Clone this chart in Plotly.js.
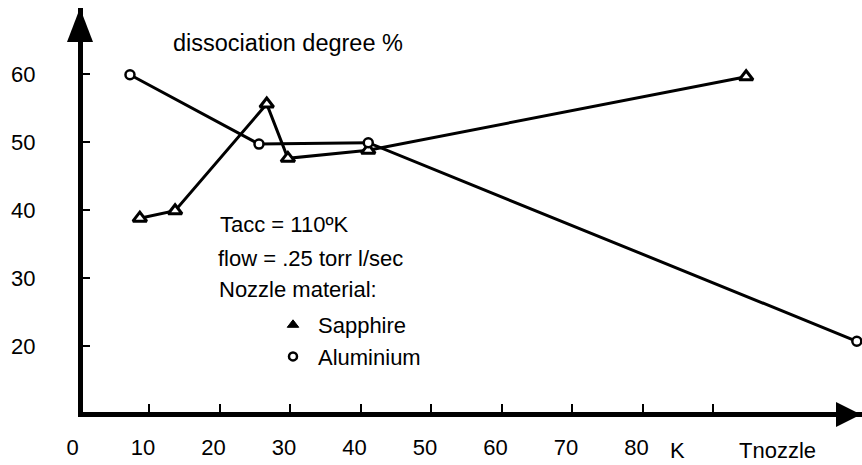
<!DOCTYPE html>
<html>
<head>
<meta charset="utf-8">
<script src="https://cdn.plot.ly/plotly-3.0.1.min.js"></script>
<style>html,body{margin:0;padding:0;background:#fff;}#chart{width:862px;height:465px;}</style>
</head>
<body>
<div id="chart"></div>
<script>
// ---- data ----
const seriesNames = ['Sapphire', 'Aluminium'];
const sapphireT = [8.7, 13.7, 26.7, 29.7, 41.1, 94.7];
const sapphireDeg = [38.8, 39.9, 55.6, 47.6, 48.8, 59.6];
const aluminiumT = [7.3, 25.6, 41.1, 110.4];
const aluminiumDeg = [59.9, 49.7, 49.9, 20.7];
const xTickVals = [0, 10, 20, 30, 40, 50, 60, 70, 80, 90];
const xTickText = ['0', '10', '20', '30', '40', '50', '60', '70', '80', ''];
const yTickVals = [20, 30, 40, 50, 60];
const yTickText = ['20', '30', '40', '50', '60'];
const chartTitle = 'dissociation degree %';
const unitLabel = 'K';
const axisLabel = 'Tnozzle';
const notes = ['Tacc = 110ºK', 'flow = .25 torr l/sec', 'Nozzle material:'];

const FONT = 'Liberation Sans, Arial, Helvetica, sans-serif';
const F = 22;

const lineStyle = {color: '#000', width: 3};
const traces = [
  {x: sapphireT, y: sapphireDeg, mode: 'lines', line: lineStyle, showlegend: false, hoverinfo: 'skip', cliponaxis: false},
  {x: aluminiumT, y: aluminiumDeg, mode: 'lines', line: lineStyle, showlegend: false, hoverinfo: 'skip', cliponaxis: false},
  {x: sapphireT, y: sapphireDeg, mode: 'markers', showlegend: false, cliponaxis: false, name: seriesNames[0],
   marker: {symbol: 'triangle-up', size: 12, color: '#fff', line: {color: '#000', width: 3}}},
  {x: aluminiumT, y: aluminiumDeg, mode: 'markers', showlegend: false, cliponaxis: false, name: seriesNames[1],
   marker: {symbol: 'circle', size: 9, color: '#fff', line: {color: '#000', width: 2.5}}},
  // legend entries
  {x: [null], y: [null], mode: 'markers', name: seriesNames[0], showlegend: true,
   marker: {symbol: 'triangle-up', size: 10, color: '#000', line: {color: '#000', width: 1}}},
  {x: [null], y: [null], mode: 'markers', name: seriesNames[1], showlegend: true,
   marker: {symbol: 'circle-open', size: 8, color: '#000', line: {color: '#000', width: 2.5}}}
];

const L = 78, T = 8, B = 53, W = 862, H = 465;
const pw = W - L, ph = H - T - B;
const px = v => (v - L) / pw;          // pixel -> paper x
const py = v => (H - B - v) / ph;      // pixel -> paper y
const x0 = (L - 78.5) / 7.05;

const layout = {
  width: W, height: H,
  margin: {l: L, r: 0, t: T, b: B, pad: 0},
  paper_bgcolor: '#fff', plot_bgcolor: '#fff',
  font: {family: FONT, size: F, color: '#000'},
  title: {text: chartTitle, font: {family: FONT, size: 23.5, color: '#000'},
          xref: 'container', yref: 'container', x: 173 / W, xanchor: 'left', y: 1 - 43 / H, yanchor: 'middle'},
  xaxis: {range: [x0, x0 + pw / 7.05], showgrid: false, zeroline: false,
          showline: true, linecolor: '#000', linewidth: 4.5,
          ticks: 'inside', ticklen: 8, tickwidth: 2, tickcolor: '#000',
          tickvals: xTickVals, ticktext: xTickText, ticklabelshift: -6, ticklabelstandoff: 12,
          tickfont: {family: FONT, size: F, color: '#000'}, fixedrange: true},
  yaxis: {range: [10.3, 10.3 + ph / 6.8], showgrid: false, zeroline: false,
          anchor: 'free', position: px(80),
          showline: true, linecolor: '#000', linewidth: 4.5,
          ticks: 'inside', ticklen: 7, tickwidth: 2, tickcolor: '#000',
          tickvals: yTickVals, ticktext: yTickText, ticklabelshift: 0, ticklabelstandoff: 38,
          tickfont: {family: FONT, size: F, color: '#000'}, fixedrange: true},
  showlegend: true,
  legend: {x: px(268), xanchor: 'left', y: py(304), yanchor: 'top', bgcolor: 'rgba(0,0,0,0)', itemwidth: 40,
           font: {family: FONT, size: F, color: '#000'}, itemclick: false, itemdoubleclick: false, tracegroupgap: 0},
  shapes: [
    {type: 'path', xref: 'paper', yref: 'paper', fillcolor: '#000', line: {width: 0},
     path: `M ${px(80)} ${py(8)} L ${px(67)} ${py(42)} L ${px(93)} ${py(42)} Z`},
    {type: 'path', xref: 'paper', yref: 'paper', fillcolor: '#000', line: {width: 0},
     path: `M ${px(861)} ${py(414.5)} L ${px(836)} ${py(402)} L ${px(836)} ${py(427)} Z`}
  ],
  annotations: [
    {text: notes[0], xref: 'paper', yref: 'paper', x: px(218), y: py(224), xanchor: 'left', yanchor: 'middle', showarrow: false},
    {text: notes[1], xref: 'paper', yref: 'paper', x: px(216), y: py(258), xanchor: 'left', yanchor: 'middle', showarrow: false},
    {text: notes[2], xref: 'paper', yref: 'paper', x: px(217), y: py(289), xanchor: 'left', yanchor: 'middle', showarrow: false},
    {text: unitLabel, xref: 'x', yref: 'paper', x: 84.9, y: py(450), xanchor: 'center', yanchor: 'middle', showarrow: false},
    {text: axisLabel, xref: 'x', yref: 'paper', x: 99.1, y: py(450), xanchor: 'center', yanchor: 'middle', showarrow: false}
  ]
};

Plotly.newPlot('chart', traces, layout, {staticPlot: true, displayModeBar: false});
</script>
</body>
</html>
